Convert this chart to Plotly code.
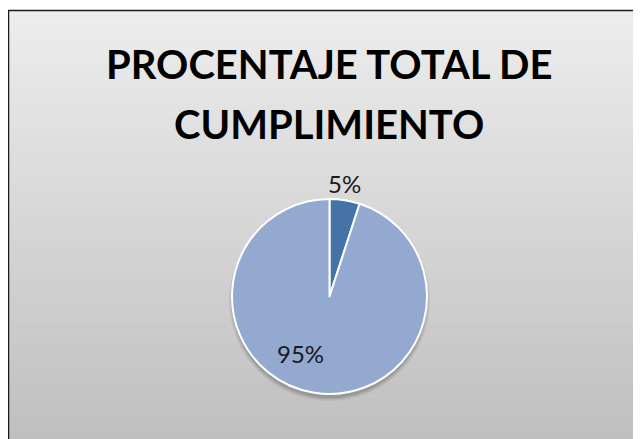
import plotly.graph_objects as go

# Data
categories = ["Incumplimiento", "Cumplimiento"]
values = [5, 95]
title_lines = ["PROCENTAJE TOTAL DE", "CUMPLIMIENTO"]
slice_colors = ["#4572A7", "#93A9CF"]

OX, OY = 8, 8  # page body margin offset
W, H = 641 - OX, 439 - OY

def px_x(x):
    return (x - OX) / W

def px_y(y):
    return 1 - (y - OY) / H

fig = go.Figure()

cx, cy, r = 329.5, 296.5, 97.5
fig.add_trace(go.Pie(
    labels=categories,
    values=values,
    sort=False,
    direction="clockwise",
    rotation=0,
    marker=dict(colors=slice_colors, line=dict(color="white", width=2)),
    textinfo="none",
    showlegend=False,
    hoverinfo="label+percent",
    domain=dict(x=[px_x(cx - r), px_x(cx + r)], y=[px_y(cy + r), px_y(cy - r)]),
))

shapes = []
# gradient background bands inside frame
top, bottom = 10.5, 439
n = 80
c0, c1 = 237, 191
for i in range(n):
    y0 = top + (bottom - top) * i / n
    y1 = top + (bottom - top) * (i + 1) / n + 0.6
    t = (i + 0.5) / n
    c = round(c0 + (c1 - c0) * t)
    shapes.append(dict(type="rect", xref="paper", yref="paper",
                       x0=px_x(8.5), x1=1.05, y0=px_y(y1), y1=px_y(y0),
                       line=dict(width=0), fillcolor=f"rgb({c},{c},{c})", layer="below"))
# soft shadow of pie
for dr, op in [(3, 0.06), (1.5, 0.08), (0, 0.10)]:
    shapes.append(dict(type="circle", xref="paper", yref="paper",
                       x0=px_x(cx - r - dr), x1=px_x(cx + r + dr),
                       y0=px_y(cy + r + 4 + dr), y1=px_y(cy - r + 4 - dr),
                       line=dict(width=0), fillcolor=f"rgba(0,0,0,{op})", layer="below"))
# frame (left and top edges visible)
shapes.append(dict(type="rect", xref="paper", yref="paper",
                   x0=px_x(8.5), x1=1.05, y0=-0.05, y1=px_y(10.5),
                   line=dict(color="#1a1a1a", width=1.5), fillcolor="rgba(0,0,0,0)", layer="above"))

annotations = []
for line, yc in zip(title_lines, [64, 124]):
    annotations.append(dict(text=f"<b>{line}</b>", xref="paper", yref="paper",
                            x=px_x(329), y=px_y(yc), xanchor="center", yanchor="middle",
                            showarrow=False,
                            font=dict(family="Lato", size=40, color="#000000")))

# data labels (text derived from values)
total = sum(values)
label_pos = [(344, 183), (300, 353)]
for v, (lx, ly) in zip(values, label_pos):
    annotations.append(dict(text=f"{v / total:.0%}", xref="paper", yref="paper",
                            x=px_x(lx), y=px_y(ly), xanchor="center", yanchor="middle",
                            showarrow=False,
                            font=dict(family="Lato", size=24, color="#1a1a1a")))

fig.update_layout(
    width=W, height=H,
    margin=dict(l=0, r=0, t=0, b=0),
    paper_bgcolor="white",
    plot_bgcolor="white",
    shapes=shapes,
    annotations=annotations,
)

fig.write_html("out.html")
